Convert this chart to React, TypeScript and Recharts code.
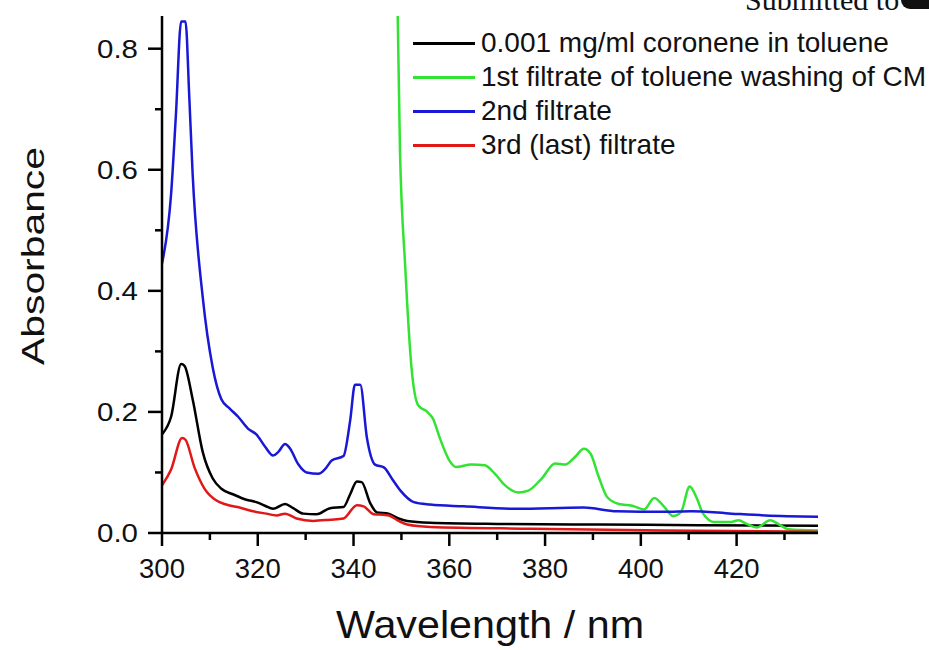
import React from 'react';
import { LineChart, Line, XAxis, YAxis, Legend } from 'recharts';

// wavelengths (nm) and absorbance
const blackNm = [300, 301.9, 304, 304.7, 306.4, 308.5, 310.6, 312.4, 314.8, 317.6, 319.7, 321.5, 323.2, 325.7, 327.4, 329.5, 332.3, 335.1, 337.9, 339.3, 340.7, 341.7, 343.5, 344.9, 347.3, 349.4, 351.2, 356, 370, 391, 412, 437];
const blackAbs = [0.163, 0.192, 0.279, 0.276, 0.221, 0.134, 0.09, 0.073, 0.064, 0.055, 0.051, 0.045, 0.04, 0.048, 0.041, 0.032, 0.031, 0.041, 0.043, 0.064, 0.085, 0.084, 0.049, 0.034, 0.032, 0.024, 0.02, 0.017, 0.015, 0.014, 0.013, 0.012];

const greenNm = [348.7, 349.7, 350.8, 352.1, 353.5, 355.4, 356.5, 358.2, 360, 361.4, 364.6, 367.4, 369.5, 371.6, 374.4, 376.5, 379.3, 382.1, 384.2, 386.3, 388.1, 389.5, 391.2, 393, 395.4, 398.2, 400.7, 402.8, 404.9, 406.7, 408.4, 410.2, 411.6, 413, 415.4, 418.6, 420.4, 422.1, 424.2, 427, 429.1, 430.9, 437];
const greenAbs = [1.1, 0.632, 0.439, 0.274, 0.211, 0.2, 0.19, 0.153, 0.12, 0.109, 0.113, 0.112, 0.098, 0.079, 0.067, 0.07, 0.09, 0.115, 0.113, 0.126, 0.139, 0.131, 0.093, 0.059, 0.048, 0.045, 0.039, 0.058, 0.043, 0.028, 0.035, 0.077, 0.059, 0.032, 0.018, 0.018, 0.021, 0.015, 0.009, 0.021, 0.013, 0.006, 0.004];

const blueNm = [300, 301.9, 302.9, 304, 304.9, 305.7, 306.4, 308.5, 310.6, 312.4, 314.1, 315.9, 318, 319.7, 321.5, 323.2, 324.3, 325.7, 326.7, 328.5, 330.2, 332.7, 334, 335.5, 337.9, 339.3, 340.3, 341.4, 342.8, 344.5, 346.4, 348, 349.8, 352.6, 356, 363, 374, 388, 395, 405, 410.5, 419, 426, 437];
const blueAbs = [0.445, 0.56, 0.69, 0.845, 0.845, 0.72, 0.593, 0.39, 0.273, 0.221, 0.206, 0.192, 0.172, 0.163, 0.143, 0.128, 0.134, 0.147, 0.14, 0.113, 0.1, 0.098, 0.105, 0.12, 0.127, 0.186, 0.245, 0.245, 0.157, 0.113, 0.108, 0.09, 0.07, 0.051, 0.047, 0.044, 0.04, 0.042, 0.036, 0.035, 0.036, 0.032, 0.029, 0.027];

const redNm = [300, 301.9, 304.2, 304.9, 306.8, 308.9, 311.3, 313.4, 316.2, 319, 321.8, 323.9, 325.7, 328.1, 331.6, 335.1, 337.9, 340.7, 342.1, 344.2, 346.3, 347.4, 349.4, 351.2, 356, 377, 405, 437];
const redAbs = [0.079, 0.105, 0.157, 0.154, 0.108, 0.073, 0.054, 0.047, 0.042, 0.036, 0.032, 0.029, 0.032, 0.024, 0.02, 0.022, 0.024, 0.046, 0.044, 0.031, 0.03, 0.029, 0.02, 0.014, 0.01, 0.007, 0.004, 0.002];

const xTicks = [300, 310, 320, 330, 340, 350, 360, 370, 380, 390, 400, 410, 420, 430];
const yTicks = [0, 0.1, 0.2, 0.3, 0.4, 0.5, 0.6, 0.7, 0.8];

const toPoints = (nm: number[], abs: number[]) => nm.map((x, i) => ({ nm: x, a: abs[i] }));

const series = [
  { name: '0.001 mg/ml coronene in toluene', color: '#000000', data: toPoints(blackNm, blackAbs) },
  { name: '1st filtrate of toluene washing of CM', color: '#33e333', data: toPoints(greenNm, greenAbs) },
  { name: '2nd filtrate', color: '#1818d6', data: toPoints(blueNm, blueAbs) },
  { name: '3rd (last) filtrate', color: '#e01818', data: toPoints(redNm, redAbs) },
];

const FONT = '"Liberation Sans", Arial, sans-serif';

const YTick = (props: any) => {
  const { x, y, payload } = props;
  const major = Math.round(payload.value * 10) % 2 === 0;
  return (
    <g>
      <line x1={x} x2={x - (major ? 14 : 7)} y1={y} y2={y} stroke="#000" strokeWidth={2.5} />
      {major && (
        <text
          x={x - 24}
          y={y}
          textAnchor="end"
          dominantBaseline="central"
          fontSize={26}
          textLength={41}
          lengthAdjust="spacingAndGlyphs"
          fontFamily={FONT}
          fill="#111"
        >
          {payload.value.toFixed(1)}
        </text>
      )}
    </g>
  );
};

const XTick = (props: any) => {
  const { x, y, payload } = props;
  const major = payload.value % 20 === 0;
  return (
    <g>
      <line x1={x} x2={x} y1={y} y2={y + (major ? 13 : 7)} stroke="#000" strokeWidth={2.5} />
      {major && (
        <text x={x} y={y + 35} textAnchor="middle" dominantBaseline="central" fontSize={27.5} fontFamily={FONT} fill="#111">
          {payload.value}
        </text>
      )}
    </g>
  );
};

const LegendBox = () => (
  <div style={{ fontFamily: FONT, fontSize: 28, color: '#111' }}>
    {series.map((s) => (
      <div key={s.name} style={{ display: 'flex', alignItems: 'center', height: 34, whiteSpace: 'nowrap' }}>
        <span style={{ display: 'inline-block', width: 62, height: 3, background: s.color, marginRight: 6 }} />
        <span>{s.name}</span>
      </div>
    ))}
  </div>
);

export default function App() {
  return (
    <div style={{ position: 'absolute', left: 0, top: 0, width: 929, height: 650, background: '#fff', overflow: 'hidden' }}>
      <LineChart width={929} height={650} margin={{ top: 16, right: 111, left: 0, bottom: 0 }}>
        <XAxis
          type="number"
          dataKey="nm"
          domain={[300, 437]}
          ticks={xTicks}
          interval={0}
          allowDataOverflow
          height={117}
          tickSize={0}
          tickMargin={0}
          tickLine={false}
          tick={XTick}
          axisLine={{ stroke: '#000', strokeWidth: 2.5 }}
          label={{
            content: (p: any) => (
              <text
                x={p.viewBox.x + p.viewBox.width / 2}
                y={p.viewBox.y + 105}
                textAnchor="middle"
                fontSize={39}
                textLength={308}
                lengthAdjust="spacingAndGlyphs"
                fontFamily={FONT}
                fill="#111"
              >
                Wavelength / nm
              </text>
            ),
          }}
        />
        <YAxis
          type="number"
          domain={[0, 0.854]}
          ticks={yTicks}
          interval={0}
          allowDataOverflow
          width={162}
          tickSize={0}
          tickMargin={0}
          tickLine={false}
          tick={YTick}
          axisLine={{ stroke: '#000', strokeWidth: 2.5 }}
          label={{
            content: () => (
              <text
                transform="translate(44,256) rotate(-90)"
                textAnchor="middle"
                fontSize={32}
                textLength={218}
                lengthAdjust="spacingAndGlyphs"
                fontFamily={FONT}
                fill="#111"
              >
                Absorbance
              </text>
            ),
          }}
        />
        <Legend
          layout="vertical"
          align="center"
          verticalAlign="middle"
          wrapperStyle={{ top: 26, left: 413, width: 'auto' }}
          content={() => <LegendBox />}
        />
        {series.map((s) => (
          <Line
            key={s.name}
            data={s.data}
            dataKey="a"
            name={s.name}
            type="monotone"
            stroke={s.color}
            strokeWidth={2.5}
            dot={false}
            activeDot={false}
            isAnimationActive={false}
          />
        ))}
      </LineChart>
      <svg width={929} height={22} style={{ position: 'absolute', left: 0, top: 0 }}>
        <text x={745} y={10} fontSize={30} fontFamily='"Liberation Serif", "Times New Roman", serif' fill="#111">
          Submitted to
        </text>
        <rect x={901} y={-12} width={40} height={21} rx={9} fill="#111" />
      </svg>
    </div>
  );
}
